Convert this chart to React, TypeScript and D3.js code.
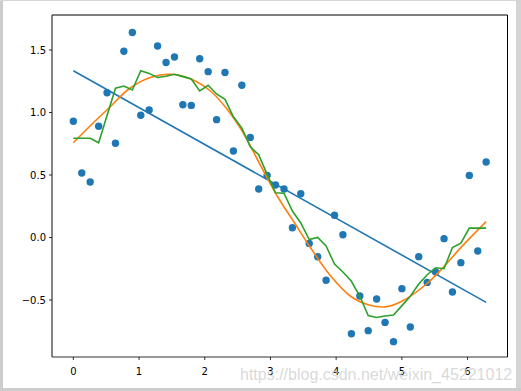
import React from "react"
import * as d3 from "d3"

// sample positions (linspace 0..2pi, 50 pts)
const xs = [
  0, 0.128, 0.256, 0.385, 0.513, 0.641, 0.769, 0.898, 1.026, 1.154,
  1.282, 1.411, 1.539, 1.667, 1.795, 1.923, 2.052, 2.18, 2.308, 2.436,
  2.565, 2.693, 2.821, 2.949, 3.077, 3.206, 3.334, 3.462, 3.59, 3.719,
  3.847, 3.975, 4.103, 4.232, 4.36, 4.488, 4.616, 4.744, 4.873, 5.001,
  5.129, 5.257, 5.386, 5.514, 5.642, 5.77, 5.898, 6.027, 6.155, 6.283,
]

// noisy observations
const ys = [
  0.93, 0.516, 0.444, 0.89, 1.158, 0.754, 1.49, 1.64, 0.978, 1.02,
  1.532, 1.4, 1.444, 1.062, 1.057, 1.43, 1.327, 0.943, 1.32, 0.692,
  1.218, 0.8, 0.388, 0.497, 0.42, 0.388, 0.078, 0.35, -0.047, -0.154,
  -0.342, 0.178, 0.022, -0.77, -0.468, -0.745, -0.492, -0.679, -0.833, -0.409,
  -0.716, -0.153, -0.359, -0.276, -0.009, -0.436, -0.201, 0.497, -0.108, 0.604,
]

// green model prediction at each sample
const knnY = [
  0.794, 0.794, 0.794, 0.758, 0.976, 1.194, 1.212, 1.18, 1.334, 1.313,
  1.28, 1.29, 1.306, 1.287, 1.268, 1.172, 1.218, 1.148, 1.105, 0.966,
  0.875, 0.726, 0.662, 0.505, 0.358, 0.354, 0.212, 0.116, -0.016, 0.0,
  -0.068, -0.212, -0.276, -0.35, -0.47, -0.625, -0.64, -0.628, -0.62, -0.545,
  -0.47, -0.372, -0.298, -0.242, -0.25, -0.08, -0.046, 0.075, 0.075, 0.075,
]

// orange polynomial fit, read at a few positions
const polyX = [0, 0.25, 0.55, 0.85, 1.17, 1.5, 1.8, 2.1, 2.35, 2.56, 2.86, 3.11, 3.37, 3.62, 3.92, 4.22, 4.5, 4.75, 5.0, 5.38, 5.64, 5.89, 6.283]
const polyY = [0.758, 0.89, 1.04, 1.19, 1.28, 1.306, 1.266, 1.166, 1.02, 0.86, 0.566, 0.326, 0.114, -0.09, -0.31, -0.47, -0.54, -0.555, -0.51, -0.37, -0.233, -0.085, 0.127]

// straight line fit endpoints
const linX = [0, 6.283]
const linY = [1.334, -0.519]

const xTicks = [0, 1, 2, 3, 4, 5, 6]
const yTicks = [-0.5, 0.0, 0.5, 1.0, 1.5]

const W = 521
const H = 391

const App = () => {
  const left = 52
  const right = 507.5
  const top = 15
  const bottom = 357

  const x = d3.scaleLinear().domain([-0.325, 6.608]).range([left, right])
  const y = d3.scaleLinear().domain([-0.956, 1.78]).range([bottom, top])

  const straight = d3
    .line<[number, number]>()
    .x((d) => x(d[0]))
    .y((d) => y(d[1]))
  const smooth = d3
    .line<[number, number]>()
    .x((d) => x(d[0]))
    .y((d) => y(d[1]))
    .curve(d3.curveCatmullRom)

  const linPath = straight(linX.map((v, i) => [v, linY[i]]))
  const polyPath = smooth(polyX.map((v, i) => [v, polyY[i]]))
  const knnPath = straight(xs.map((v, i) => [v, knnY[i]]))

  const font = "DejaVu Sans, sans-serif"

  return (
    <div style={{ position: "fixed", left: 0, top: 0 }}>
      <svg width={W} height={H} style={{ display: "block" }}>
        <rect x={0} y={0} width={W} height={H} fill="#fff" />
        {/* window frame */}
        <rect x={0} y={0} width={3} height={H} fill="#cdcdcd" />
        <rect x={0} y={0} width={W} height={1} fill="#d6d6d6" />
        <rect x={516} y={0} width={5} height={H} fill="#d4d4d4" />
        <rect x={0} y={388} width={W} height={3} fill="#cdcdcd" />

        {/* scatter */}
        <g>
          {xs.map((v, i) => (
            <circle key={i} cx={x(v)} cy={y(ys[i])} r={3.7} fill="#1f77b4" />
          ))}
        </g>

        <path d={linPath ?? ""} fill="none" stroke="#1f77b4" strokeWidth={1.6} />
        <path d={polyPath ?? ""} fill="none" stroke="#ff7f0e" strokeWidth={1.6} />
        <path d={knnPath ?? ""} fill="none" stroke="#2ca02c" strokeWidth={1.6} />

        {/* spines */}
        <line x1={left} x2={right} y1={top} y2={top} stroke="#000" strokeWidth={1} />
        <line x1={right} x2={right} y1={top} y2={bottom} stroke="#000" strokeWidth={1} />
        <line x1={left} x2={left} y1={top} y2={bottom} stroke="#333" strokeWidth={1.2} />
        <line x1={left} x2={right} y1={bottom} y2={bottom} stroke="#333" strokeWidth={1.2} />

        {/* x axis */}
        <g>
          {xTicks.map((t) => (
            <g key={t} transform={`translate(${x(t)},${bottom})`}>
              <line y1={0} y2={3} stroke="#000" strokeWidth={0.8} />
              <text y={18} textAnchor="middle" fontFamily={font} fontSize={10} fill="#000">
                {t}
              </text>
            </g>
          ))}
        </g>

        {/* y axis */}
        <g>
          {yTicks.map((t) => (
            <g key={t} transform={`translate(${left},${y(t)})`}>
              <line x1={0} x2={-3} stroke="#000" strokeWidth={0.8} />
              <text x={-6} dy="0.35em" textAnchor="end" fontFamily={font} fontSize={10} fill="#000">
                {d3.format(".1f")(t).replace("-", "\u2212")}
              </text>
            </g>
          ))}
        </g>

        {/* watermark (overlaps tick labels in the original too) */}
        <text x={240} y={380} fontFamily="Liberation Sans, Arial, sans-serif" fontSize={16} fill="#d2d2d2" fillOpacity={0.85}>
          https://blog.csdn.net/weixin_45221012
        </text>
      </svg>
    </div>
  )
}

export default App
